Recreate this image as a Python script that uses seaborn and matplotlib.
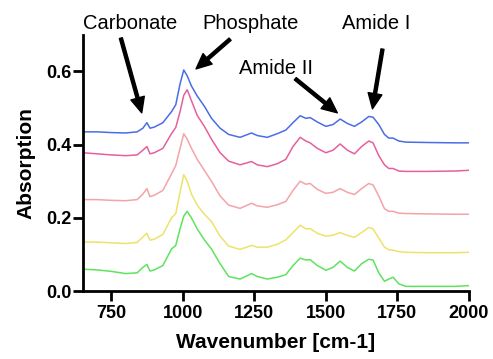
import seaborn as sns
import pandas as pd
import matplotlib.pyplot as plt

sns.set_style('ticks')
plt.rcParams['font.family'] = ['Liberation Sans', 'DejaVu Sans']
plt.rcParams['text.color'] = 'black'
plt.rcParams['axes.labelcolor'] = 'black'
plt.rcParams['axes.edgecolor'] = 'black'
plt.rcParams['xtick.color'] = 'black'
plt.rcParams['ytick.color'] = 'black'

# 파수 (cm-1)
wavenumber = [650, 700, 750, 800, 840, 860, 874, 885, 900, 930, 960, 975, 990, 1003,
              1015, 1030, 1050, 1075, 1100, 1130, 1160, 1200, 1240, 1260, 1295, 1330,
              1360, 1385, 1410, 1430, 1445, 1470, 1500, 1525, 1550, 1575, 1600, 1625,
              1650, 1665, 1685, 1705, 1720, 1735, 1755, 1780, 1850, 1950, 2000]

# 흡광도 (위에서 아래 순서)
blue = [0.435, 0.435, 0.433, 0.432, 0.435, 0.445, 0.46, 0.445, 0.448, 0.46, 0.49, 0.509,
        0.566, 0.604, 0.588, 0.56, 0.533, 0.505, 0.472, 0.445, 0.428, 0.42, 0.432, 0.425,
        0.42, 0.43, 0.44, 0.46, 0.479, 0.472, 0.474, 0.462, 0.45, 0.455, 0.47, 0.458,
        0.45, 0.462, 0.477, 0.475, 0.455, 0.428, 0.418, 0.418, 0.41, 0.407, 0.406, 0.405, 0.405]
pink = [0.378, 0.375, 0.372, 0.37, 0.372, 0.385, 0.395, 0.375, 0.378, 0.39, 0.43, 0.447,
        0.49, 0.535, 0.55, 0.52, 0.48, 0.45, 0.415, 0.378, 0.355, 0.345, 0.354, 0.345,
        0.34, 0.348, 0.36, 0.395, 0.42, 0.41, 0.405, 0.39, 0.378, 0.385, 0.402, 0.385,
        0.375, 0.395, 0.41, 0.405, 0.37, 0.345, 0.335, 0.335, 0.328, 0.327, 0.327, 0.328, 0.33]
salmon = [0.25, 0.25, 0.248, 0.247, 0.25, 0.265, 0.28, 0.258, 0.262, 0.275, 0.32, 0.343,
          0.39, 0.43, 0.415, 0.39, 0.36, 0.33, 0.3, 0.26, 0.235, 0.226, 0.24, 0.233,
          0.229, 0.236, 0.245, 0.275, 0.3, 0.292, 0.294, 0.278, 0.267, 0.27, 0.28, 0.27,
          0.264, 0.28, 0.294, 0.29, 0.26, 0.225, 0.218, 0.218, 0.213, 0.212, 0.211, 0.21, 0.21]
yellow = [0.134, 0.134, 0.132, 0.13, 0.133, 0.148, 0.158, 0.139, 0.142, 0.155, 0.2, 0.212,
          0.27, 0.318, 0.3, 0.265, 0.235, 0.21, 0.19, 0.15, 0.123, 0.114, 0.125, 0.12,
          0.12, 0.128, 0.14, 0.16, 0.18, 0.17, 0.171, 0.158, 0.15, 0.153, 0.16, 0.152,
          0.147, 0.16, 0.174, 0.17, 0.145, 0.12, 0.113, 0.112, 0.108, 0.106, 0.105, 0.105, 0.106]
green = [0.06, 0.058, 0.054, 0.048, 0.05, 0.065, 0.073, 0.055, 0.058, 0.07, 0.115, 0.125,
         0.17, 0.205, 0.218, 0.2, 0.17, 0.14, 0.115, 0.075, 0.04, 0.033, 0.048, 0.04,
         0.033, 0.038, 0.045, 0.07, 0.09, 0.085, 0.086, 0.07, 0.057, 0.065, 0.082, 0.065,
         0.055, 0.075, 0.087, 0.085, 0.05, 0.027, 0.033, 0.038, 0.02, 0.013, 0.013, 0.013, 0.015]

series = {'blue': blue, 'pink': pink, 'salmon': salmon, 'yellow': yellow, 'green': green}
colors = ['#4a6de6', '#e5609c', '#f4a3a8', '#ece36a', '#5ee35e']

df = pd.concat([pd.DataFrame({'wavenumber': wavenumber, 'absorption': v, 'sample': k})
                for k, v in series.items()])

fig = plt.figure(figsize=(4.93, 3.59), dpi=100)
ax = fig.add_axes([0.168, 0.189, 0.783, 0.714])
sns.lineplot(data=df, x='wavenumber', y='absorption', hue='sample', palette=colors,
             linewidth=1.1, legend=False, ax=ax)

ax.set_xlim(650, 2000)
ax.set_ylim(0, 0.7)
ax.set_xticks([750, 1000, 1250, 1500, 1750, 2000])
ax.set_yticks([0.0, 0.2, 0.4, 0.6])
ax.set_yticklabels(['0.0', '0.2', '0.4', '0.6'])
ax.set_xlabel('Wavenumber [cm-1]', fontsize=15, fontweight='bold', labelpad=8)
ax.set_ylabel('Absorption', fontsize=15, fontweight='bold', labelpad=8)
for lab in ax.get_xticklabels() + ax.get_yticklabels():
    lab.set_fontweight('bold')
ax.tick_params(labelsize=13, width=2, length=7, direction='out')
ax.tick_params(axis='y', pad=1)
ax.tick_params(axis='x', pad=3)
sns.despine(ax=ax)
for s in ['left', 'bottom']:
    ax.spines[s].set_linewidth(2)

# 피크 표시
labels = [('Carbonate', 814, 0.732), ('Phosphate', 1238, 0.732),
          ('Amide I', 1677, 0.732), ('Amide II', 1326, 0.607)]
for txt, x, y in labels:
    ax.text(x, y, txt, fontsize=14.5, ha='center', va='center', clip_on=False)

arrows = [((783, 0.691), (856, 0.487)), ((1165, 0.688), (1046, 0.607)),
          ((1393, 0.58), (1540, 0.487)), ((1698, 0.661), (1663, 0.498))]
for tail, head in arrows:
    ax.annotate('', xy=head, xytext=tail, annotation_clip=False,
                arrowprops=dict(facecolor='black', edgecolor='black', width=2.2,
                                headwidth=10, headlength=11, shrink=0))

plt.savefig('out.png', dpi=100)
